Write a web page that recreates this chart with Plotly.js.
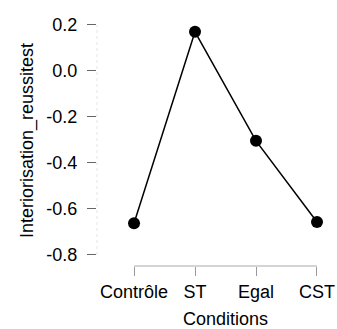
<!DOCTYPE html>
<html>
<head>
<meta charset="utf-8">
<script src="https://cdn.plot.ly/plotly-3.0.1.min.js"></script>
<style>html,body{margin:0;padding:0;background:#fff;}</style>
</head>
<body>
<div id="chart" style="width:337px;height:329px;"></div>
<script>
var conditions = ["Contrôle", "ST", "Egal", "CST"];
var meanValues = [-0.662, 0.170, -0.304, -0.657];
var yTickValues = [-0.8, -0.6, -0.4, -0.2, 0.0, 0.2];
var yTickLabels = ["-0.8", "-0.6", "-0.4", "-0.2", "0.0", "0.2"];
var xTitle = "Conditions";
var yTitle = "Interiorisation_reussitest";

var FONT = "Liberation Sans, Arial, sans-serif";

var trace = {
  x: conditions,
  y: meanValues,
  type: "scatter",
  mode: "lines+markers",
  line: {color: "#000", width: 1.5},
  marker: {color: "#000", size: 12},
  hoverinfo: "none"
};

var layout = {
  width: 337,
  height: 329,
  margin: {l: 97, r: 0, t: 15, b: 63, pad: 0},
  paper_bgcolor: "#fff",
  plot_bgcolor: "#fff",
  showlegend: false,
  font: {family: FONT, size: 18, color: "#000"},
  xaxis: {
    type: "category",
    range: [-0.607, 3.328],
    showgrid: false,
    zeroline: false,
    showline: false,
    ticks: "outside",
    ticklen: 9,
    tickwidth: 1,
    tickcolor: "#999",
    ticklabelstandoff: 0,
    tickfont: {family: FONT, size: 18, color: "#000"}
  },
  yaxis: {
    range: [-0.848, 0.243],
    tickvals: yTickValues,
    ticktext: yTickLabels,
    showgrid: false,
    zeroline: false,
    showline: false,
    ticks: "outside",
    ticklen: 9,
    tickwidth: 1,
    tickcolor: "#666",
    ticklabelstandoff: 6,
    tickfont: {family: FONT, size: 18, color: "#000"},
    title: {text: yTitle, font: {family: FONT, size: 18, color: "#000"}, standoff: 8}
  },
  annotations: [
    {text: xTitle, xref: "x", yref: "paper", x: (conditions.length - 1) / 2, y: -0.254,
     xanchor: "center", yanchor: "bottom", showarrow: false, borderpad: 0,
     font: {family: FONT, size: 18, color: "#000"}}
  ],
  shapes: [
    {type: "line", xref: "x", yref: "paper", x0: 0, x1: conditions.length - 1, y0: 0, y1: 0,
     line: {color: "#aaa", width: 1}},
    {type: "line", xref: "paper", yref: "y", x0: 0, x1: 0, y0: yTickValues[0], y1: yTickValues[yTickValues.length - 1],
     line: {color: "#e4e4e4", width: 1, dash: "dot"}}
  ]
};

Plotly.newPlot("chart", [trace], layout, {displayModeBar: false, staticPlot: true});
</script>
</body>
</html>
